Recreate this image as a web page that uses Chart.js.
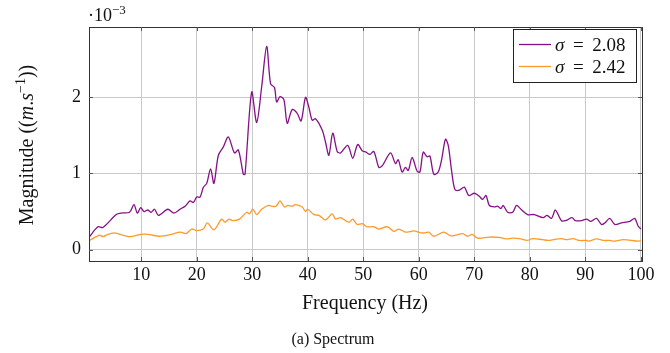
<!DOCTYPE html>
<html>
<head>
<meta charset="utf-8">
<script src="https://cdn.jsdelivr.net/npm/chart.js@4.4.1/dist/chart.umd.min.js"></script>
<style>
html,body{margin:0;padding:0;background:#fff;}
#wrap{width:670px;height:353px;}
</style>
</head>
<body>
<div id="wrap"><canvas id="c" width="670" height="353"></canvas></div>
<script>
// Values in units of 1e-3 m/s
const freqA = [0.7,2.2,3.1,5.5,6.4,7.9,8.7,9.3,9.9,10.5,11.2,11.8,12.4,13.1,14.8,15.9,17.0,17.9,18.8,19.4,20.0,20.6,21.2,21.8,22.5,23.1,23.9,24.8,25.7,26.8,27.5,28.4,28.7,29.9,30.8,31.7,32.6,33.3,34.0,34.4,35.0,35.7,36.3,37.2,38.1,38.8,39.6,40.2,40.8,41.4,42.6,43.2,43.8,44.5,45.3,45.9,47.2,48.1,49.0,49.8,50.5,51.2,51.9,52.8,53.4,54.9,55.8,56.3,57.0,57.6,58.1,58.8,59.7,60.2,60.8,61.5,62.0,62.7,63.5,64.1,64.8,65.3,65.9,66.5,67.3,68.2,69.0,70.0,70.9,71.5,72.1,72.7,73.6,74.2,74.8,75.2,76.0,76.9,77.6,78.4,79.6,80.8,82.4,83.1,83.9,84.6,85.7,86.6,87.6,88.2,89.3,90.2,91.0,92.0,92.9,93.5,94.4,95.3,96.5,98.0,98.9,99.5,100];
const magA = [0.17,0.30,0.29,0.46,0.48,0.49,0.59,0.48,0.55,0.50,0.52,0.49,0.53,0.45,0.53,0.48,0.53,0.57,0.64,0.62,0.69,0.69,0.82,0.87,1.06,0.87,1.24,1.35,1.48,1.27,1.31,0.99,0.99,2.07,1.67,2.14,2.67,2.18,2.13,1.94,2.01,1.97,1.66,1.84,1.79,1.69,2.00,1.87,1.70,1.72,1.57,1.41,1.24,1.53,1.29,1.27,1.37,1.20,1.38,1.30,1.28,1.25,1.29,1.08,1.10,1.27,1.13,1.18,1.02,1.08,1.04,1.21,1.03,1.02,1.28,1.22,1.23,0.99,1.02,1.18,1.45,1.37,1.04,0.79,0.78,0.82,0.71,0.74,0.70,0.66,0.71,0.58,0.56,0.57,0.54,0.58,0.49,0.49,0.58,0.53,0.46,0.46,0.42,0.45,0.41,0.52,0.38,0.385,0.42,0.38,0.38,0.40,0.37,0.41,0.33,0.35,0.41,0.33,0.35,0.37,0.41,0.31,0.27];
const freqB = [0.7,2.5,3.1,4.0,5.1,5.8,7.9,10.0,11.2,13.3,15.4,17.0,18.1,19.1,20.0,21.2,21.9,23.1,24.5,25.1,25.8,26.5,27.7,29.0,29.5,30.1,30.8,31.7,32.9,33.5,34.3,35.0,35.8,36.4,37.2,37.7,39.0,39.6,40.0,41.1,42.0,43.2,44.4,45.0,45.9,47.4,48.1,48.9,49.8,50.7,51.9,52.8,54.3,55.5,56.4,57.6,59.1,60.3,61.2,61.8,62.7,64.5,65.7,66.7,67.9,68.8,69.6,70.6,72.7,74.5,75.7,76.9,78.1,79.5,80.5,82.3,83.3,84.5,85.7,86.6,87.8,88.8,90.2,90.6,92.0,93.2,94.4,95.3,96.8,98.3,99.5,100];
const magB = [0.12,0.19,0.17,0.20,0.22,0.21,0.17,0.20,0.20,0.175,0.20,0.23,0.21,0.27,0.25,0.27,0.35,0.26,0.40,0.36,0.40,0.38,0.40,0.49,0.47,0.53,0.46,0.53,0.58,0.57,0.57,0.64,0.56,0.58,0.57,0.59,0.56,0.50,0.53,0.46,0.45,0.39,0.47,0.40,0.42,0.36,0.40,0.33,0.34,0.30,0.30,0.27,0.30,0.24,0.27,0.23,0.245,0.22,0.22,0.23,0.175,0.23,0.18,0.19,0.21,0.175,0.20,0.15,0.165,0.16,0.14,0.15,0.145,0.12,0.145,0.13,0.12,0.135,0.145,0.13,0.145,0.12,0.12,0.11,0.14,0.12,0.12,0.11,0.13,0.12,0.11,0.12];
const sigmaLabels = ["2.08", "2.42"];
const xTicks = [10,20,30,40,50,60,70,80,90,100];
const yTicks = [0,1,2];

const SERIF = '"Liberation Serif","DejaVu Serif",serif';
const colA = '#861186';
const colB = '#ff9a2a';

function pts(xs, ys){ return xs.map((x,i)=>({x:x, y:ys[i]})); }

function drawRich(ctx, segs, x, y, align){
  let w = 0;
  segs.forEach(s=>{ ctx.font = s.font; w += ctx.measureText(s.text).width; });
  let cx = align === 'center' ? x - w/2 : (align === 'right' ? x - w : x);
  ctx.textAlign = 'left';
  ctx.textBaseline = 'alphabetic';
  segs.forEach(s=>{
    ctx.font = s.font;
    ctx.fillText(s.text, cx, y + (s.dy||0));
    cx += ctx.measureText(s.text).width;
  });
}

const decor = {
  id: 'decor',
  afterDatasetsDraw(chart){
    const ctx = chart.ctx, a = chart.chartArea;
    ctx.save();
    ctx.strokeStyle = '#333';
    ctx.lineWidth = 1;
    ctx.strokeRect(Math.round(a.left)+0.5, Math.round(a.top)+0.5, Math.round(a.right-a.left), Math.round(a.bottom-a.top));
    ctx.strokeStyle = '#555';
    const xs = chart.scales.x, ys = chart.scales.y;
    xTicks.forEach(v=>{
      const px = Math.round(xs.getPixelForValue(v))+0.5;
      ctx.beginPath(); ctx.moveTo(px, a.bottom); ctx.lineTo(px, a.bottom-4); ctx.stroke();
      ctx.beginPath(); ctx.moveTo(px, a.top); ctx.lineTo(px, a.top+4); ctx.stroke();
    });
    yTicks.forEach(v=>{
      const py = Math.round(ys.getPixelForValue(v))+0.5;
      ctx.beginPath(); ctx.moveTo(a.left, py); ctx.lineTo(a.left+4, py); ctx.stroke();
      ctx.beginPath(); ctx.moveTo(a.right, py); ctx.lineTo(a.right-4, py); ctx.stroke();
    });
    // legend
    const lx = 513, ly = 29, lw = 123, lh = 53;
    ctx.fillStyle = '#fff';
    ctx.fillRect(lx, ly, lw, lh);
    ctx.strokeStyle = '#222';
    ctx.strokeRect(lx+0.5, ly+0.5, lw, lh);
    const cols = [colA, colB];
    const rows = [44.5, 66.5];
    chart.data.datasets.forEach((ds, i)=>{
      ctx.strokeStyle = cols[i];
      ctx.lineWidth = 1.3;
      ctx.beginPath(); ctx.moveTo(519, rows[i]); ctx.lineTo(551, rows[i]); ctx.stroke();
      ctx.fillStyle = '#111';
      drawRich(ctx, [
        {text:'σ', font:'italic 19px '+SERIF},
        {text:' \u2009=\u2009 ' + sigmaLabels[i], font:'19px '+SERIF}
      ], 555, rows[i]+6, 'left');
    });
    ctx.fillStyle = '#111';
    // exponent
    drawRich(ctx, [
      {text:'·10', font:'18px '+SERIF},
      {text:'−3', font:'13px '+SERIF, dy:-7}
    ], 88, 21, 'left');
    // x label
    drawRich(ctx, [{text:'Frequency (Hz)', font:'20px '+SERIF}], 365, 309, 'center');
    // caption
    drawRich(ctx, [{text:'(a) Spectrum', font:'16px '+SERIF}], 333, 344, 'center');
    // y label rotated
    ctx.translate(33, 145);
    ctx.rotate(-Math.PI/2);
    drawRich(ctx, [
      {text:'Magnitude ((', font:'20px '+SERIF},
      {text:'m', font:'italic 20px '+SERIF},
      {text:'.', font:'20px '+SERIF},
      {text:'s', font:'italic 20px '+SERIF},
      {text:'−1', font:'14px '+SERIF, dy:-8},
      {text:'))', font:'20px '+SERIF}
    ], 0, 0, 'center');
    ctx.restore();
  }
};

new Chart(document.getElementById('c'), {
  type: 'line',
  data: {
    datasets: [
      {label:'σ = ' + sigmaLabels[0], data: pts(freqA, magA), borderColor: colA, borderWidth: 1.3, pointRadius: 0, tension: 0.3, fill: false},
      {label:'σ = ' + sigmaLabels[1], data: pts(freqB, magB), borderColor: colB, borderWidth: 1.3, pointRadius: 0, tension: 0.3, fill: false}
    ]
  },
  options: {
    responsive: false,
    animation: false,
    devicePixelRatio: 1,
    layout: {padding: {top: 27, right: 28, left: 0, bottom: 0}},
    plugins: {legend: {display: false}, tooltip: {enabled: false}},
    scales: {
      x: {
        type: 'linear', min: 0.6, max: 100.2,
        afterBuildTicks: s => { s.ticks = xTicks.map(v=>({value:v})); },
        afterFit: s => { s.height = 92; },
        grid: {color: '#c9c9c9', lineWidth: 1, drawTicks: false},
        border: {display: true, color: '#333'},
        ticks: {color: '#111', padding: 3, maxRotation: 0, autoSkip: false, font: {family: SERIF, size: 18}, callback: v => String(v)}
      },
      y: {
        type: 'linear', min: -0.15, max: 2.925,
        afterBuildTicks: s => { s.ticks = yTicks.map(v=>({value:v})); },
        afterFit: s => { s.width = 89; },
        grid: {color: '#c9c9c9', lineWidth: 1, drawTicks: false},
        border: {display: true, color: '#333'},
        ticks: {color: '#111', padding: 8, font: {family: SERIF, size: 18}, callback: v => String(v)}
      }
    }
  },
  plugins: [decor]
});
</script>
</body>
</html>
